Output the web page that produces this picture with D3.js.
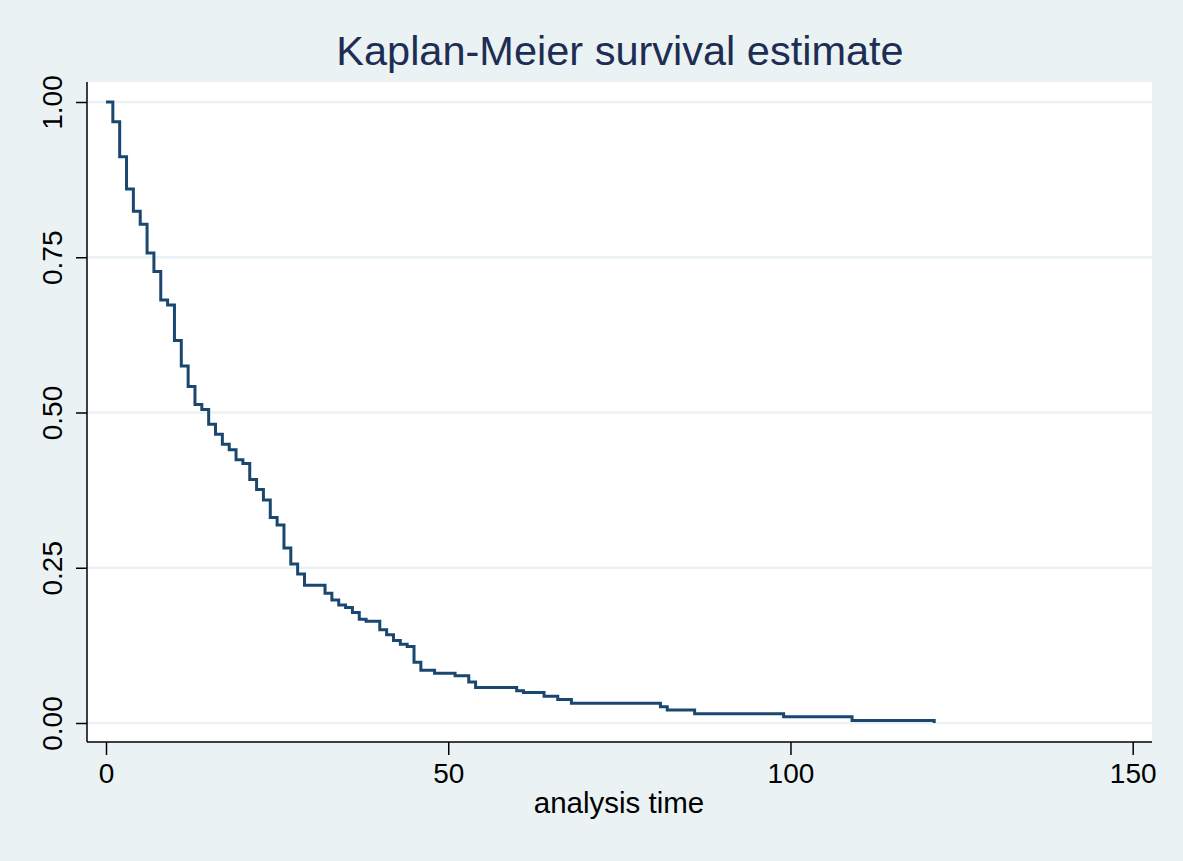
<!DOCTYPE html>
<html>
<head>
<meta charset="utf-8">
<script src="https://cdn.jsdelivr.net/npm/d3@7"></script>
<style>
  html, body { margin: 0; padding: 0; background: #eaf2f3; }
  svg { display: block; font-family: "Liberation Sans", Arial, sans-serif; }
</style>
</head>
<body>
<svg></svg>
<script>
// Kaplan-Meier step values (time, survival)
const times = [0, 1, 2, 3, 4, 5, 6, 7, 8, 9, 10, 11, 12, 13, 14, 15, 16, 17, 18, 19, 20,
  21, 22, 23, 24, 25, 26, 27, 28, 29, 32, 33, 34, 35, 36, 37, 38, 40, 41, 42, 43, 44,
  45, 46, 48, 51, 53, 54, 60, 61, 64, 66, 68, 81, 82, 86, 99, 109, 121];
const survival = [1, 0.968, 0.912, 0.860, 0.824, 0.803, 0.757, 0.727, 0.681, 0.673, 0.616,
  0.575, 0.542, 0.513, 0.505, 0.481, 0.465, 0.449, 0.440, 0.424, 0.418, 0.392, 0.376,
  0.359, 0.331, 0.319, 0.282, 0.256, 0.240, 0.222, 0.209, 0.198, 0.190, 0.186, 0.178,
  0.167, 0.164, 0.150, 0.142, 0.133, 0.127, 0.123, 0.098, 0.085, 0.080, 0.076, 0.066,
  0.057, 0.052, 0.049, 0.043, 0.038, 0.032, 0.026, 0.021, 0.015, 0.010, 0.004, 0];

const xTicks = [0, 50, 100, 150];
const yTicks = [0, 0.25, 0.5, 0.75, 1];

const titleText = "Kaplan-Meier survival estimate";
const xTitle = "analysis time";

const W = 1183, H = 861;
const plot = { left: 87, right: 1152, top: 82, bottom: 742 };

const svg = d3.select("svg").attr("width", W).attr("height", H);

svg.append("rect")
  .attr("width", W).attr("height", H)
  .attr("fill", "#eaf2f3");

// Plot region
svg.append("rect")
  .attr("x", plot.left).attr("y", plot.top)
  .attr("width", plot.right - plot.left)
  .attr("height", plot.bottom - plot.top)
  .attr("fill", "#ffffff");

const x = d3.scaleLinear().domain([0, 150]).range([106, 1132.7]);
const y = d3.scaleLinear().domain([0, 1]).range([723, 102]);

// Gridlines
svg.append("g")
  .selectAll("line")
  .data(yTicks)
  .join("line")
  .attr("x1", plot.left).attr("x2", plot.right)
  .attr("y1", d => y(d)).attr("y2", d => y(d))
  .attr("stroke", "#eaf2f3")
  .attr("stroke-width", 2.5);

// Survival curve
const data = times.map((t, i) => ({ t, s: survival[i] }));
const line = d3.line()
  .x(d => x(d.t))
  .y(d => y(d.s))
  .curve(d3.curveStepAfter);

svg.append("path")
  .datum(data)
  .attr("fill", "none")
  .attr("stroke", "#1a476f")
  .attr("stroke-width", 3)
  .attr("d", line);

// Axes
const xAxis = svg.append("g")
  .attr("transform", `translate(0, ${plot.bottom})`)
  .call(d3.axisBottom(x).tickValues(xTicks).tickSize(13).tickPadding(8).tickFormat(d3.format("d")));
xAxis.select(".domain")
  .attr("d", `M${plot.left},0H${plot.right}`)
  .attr("stroke", "#000")
  .attr("stroke-width", 1.5);
xAxis.selectAll(".tick line").attr("stroke", "#000").attr("stroke-width", 1.5);
xAxis.selectAll(".tick text")
  .attr("fill", "#000")
  .style("font-size", "28px")
  .style("font-family", "'Liberation Sans', Arial, sans-serif");

const yAxis = svg.append("g")
  .attr("transform", `translate(${plot.left}, 0)`)
  .call(d3.axisLeft(y).tickValues(yTicks).tickSize(11).tickPadding(0).tickFormat(d3.format(".2f")));
yAxis.select(".domain")
  .attr("d", `M0,${plot.top}V${plot.bottom}`)
  .attr("stroke", "#000")
  .attr("stroke-width", 1.5);
yAxis.selectAll(".tick line").attr("stroke", "#000").attr("stroke-width", 1.5);
// rotated labels centred on each tick, baseline at x≈62
yAxis.selectAll(".tick text")
  .attr("fill", "#000")
  .attr("x", 0)
  .attr("y", -25)
  .attr("dy", 0)
  .attr("transform", "rotate(-90)")
  .attr("text-anchor", "middle")
  .style("font-size", "28px")
  .style("font-family", "'Liberation Sans', Arial, sans-serif");

// Titles
svg.append("text")
  .attr("x", 620).attr("y", 65)
  .attr("text-anchor", "middle")
  .attr("fill", "#1e2d53")
  .style("font-size", "41.5px")
  .text(titleText);

svg.append("text")
  .attr("x", 619).attr("y", 813)
  .attr("text-anchor", "middle")
  .attr("fill", "#000")
  .style("font-size", "29.5px")
  .text(xTitle);
</script>
</body>
</html>
